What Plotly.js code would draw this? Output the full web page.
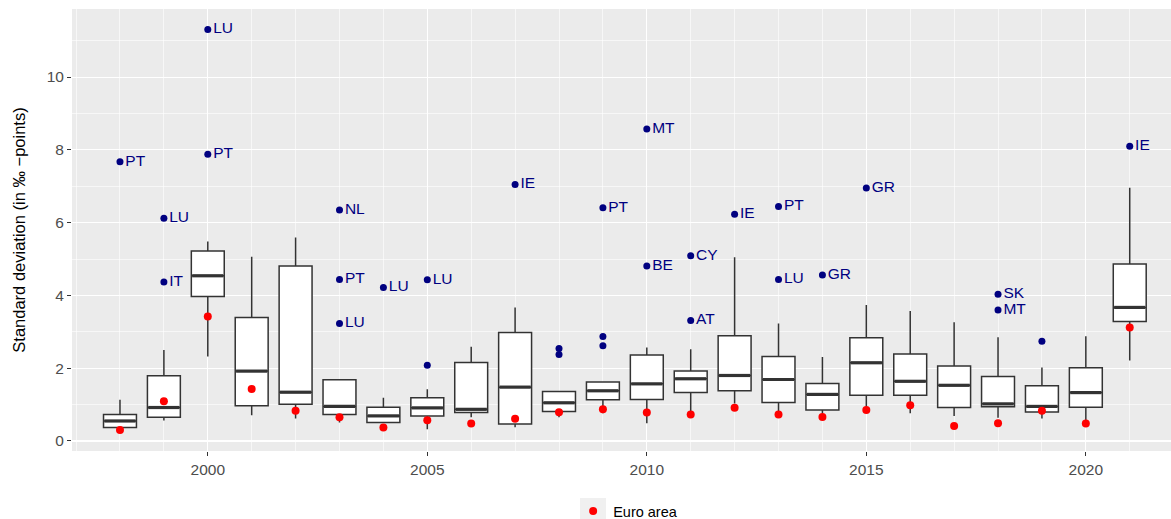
<!DOCTYPE html>
<html>
<head>
<meta charset="utf-8">
<script src="https://cdn.plot.ly/plotly-3.0.1.min.js"></script>
<style>html,body{margin:0;padding:0;background:#fff;}#chart{width:1171px;height:519px;}</style>
</head>
<body>
<div id="chart"></div>
<script>
// ---- data ----
const years = [1998,1999,2000,2001,2002,2003,2004,2005,2006,2007,2008,2009,2010,2011,2012,2013,2014,2015,2016,2017,2018,2019,2020,2021];
const lowerWhisker = [0.35,0.56,2.32,0.71,0.62,0.51,0.50,0.32,0.65,0.38,0.65,0.76,0.49,0.80,1.03,0.81,0.75,0.94,0.76,0.69,0.64,0.62,0.52,2.21];
const q1Values     = [0.37,0.65,3.97,0.97,1.01,0.73,0.51,0.69,0.78,0.47,0.81,1.13,1.14,1.33,1.38,1.06,0.85,1.26,1.26,0.92,0.94,0.80,0.93,3.28];
const medianValues = [0.55,0.92,4.54,1.92,1.34,0.95,0.69,0.91,0.87,1.48,1.05,1.38,1.57,1.71,1.80,1.69,1.28,2.15,1.64,1.53,1.02,0.95,1.33,3.67];
const q3Values     = [0.73,1.79,5.22,3.39,4.81,1.68,0.93,1.19,2.16,2.98,1.36,1.62,2.36,1.92,2.89,2.32,1.58,2.84,2.39,2.06,1.77,1.52,2.01,4.86];
const upperWhisker = [1.13,2.50,5.48,5.06,5.59,1.70,1.19,1.42,2.59,3.67,1.36,1.62,2.57,2.52,5.05,3.23,2.31,3.74,3.57,3.26,2.85,2.02,2.88,6.96];
const euroArea     = [0.30,1.09,3.42,1.43,0.83,0.65,0.37,0.57,0.48,0.61,0.79,0.87,0.78,0.73,0.91,0.73,0.66,0.85,0.98,0.41,0.49,0.83,0.48,3.12];

const outlierYears  = [1998,1999,1999,2000,2000,2003,2003,2003,2004,2005,2005,2007,2008,2008,2009,2009,2009,2010,2010,2011,2011,2012,2013,2013,2014,2015,2018,2018,2019,2021];
const outlierValues = [7.67,6.12,4.37,11.31,7.88,6.35,4.44,3.23,4.22,4.43,2.08,7.05,2.54,2.38,6.41,2.87,2.62,8.57,4.81,5.09,3.31,6.23,6.44,4.44,4.56,6.95,4.03,3.60,2.74,8.10];
const outlierLabels = ['PT','LU','IT','LU','PT','NL','PT','LU','LU','LU','','IE','','','PT','','','MT','BE','CY','AT','IE','PT','LU','GR','GR','SK','MT','','IE'];

const yTitle = 'Standard deviation (in \u2030 \u2212points)';
const legendName = 'Euro area';

// ---- traces ----
const BOXW = 0.75;
const lineCol = '#333333';

const boxTrace = {
  type: 'box',
  x: years,
  q1: q1Values, median: medianValues, q3: q3Values,
  lowerfence: lowerWhisker, upperfence: upperWhisker,
  boxpoints: false,
  width: BOXW,
  whiskerwidth: 0,
  fillcolor: '#FFFFFF',
  line: {color: lineCol, width: 1.5},
  showlegend: false,
  hoverinfo: 'skip'
};

const medX = [], medY = [];
years.forEach((yr, i) => {
  medX.push(yr - BOXW/2 + 0.02, yr + BOXW/2 - 0.02, null);
  medY.push(medianValues[i], medianValues[i], null);
});
const medianTrace = {
  type: 'scatter', mode: 'lines', x: medX, y: medY,
  line: {color: lineCol, width: 3.2},
  showlegend: false, hoverinfo: 'skip'
};

const outlierTrace = {
  type: 'scatter', mode: 'markers+text',
  x: outlierYears, y: outlierValues, text: outlierLabels,
  textposition: 'middle right',
  textfont: {family: 'Liberation Sans, Arial, sans-serif', size: 15.5, color: '#000080'},
  marker: {color: '#000080', size: 7},
  showlegend: false, hoverinfo: 'skip', cliponaxis: false
};

const euroTrace = {
  type: 'scatter', mode: 'markers',
  x: years, y: euroArea, name: legendName,
  marker: {color: '#FF0000', size: 8},
  showlegend: true, hoverinfo: 'skip'
};

const layout = {
  width: 1171, height: 519,
  margin: {l: 72, r: 0, t: 9, b: 68, autoexpand: false},
  paper_bgcolor: '#FFFFFF',
  plot_bgcolor: '#EBEBEB',
  font: {family: 'Liberation Sans, Arial, sans-serif', color: '#000000'},
  showlegend: true,
  legend: {
    orientation: 'h', x: 0.456, xanchor: 'left', y: -0.136, yanchor: 'middle',
    bgcolor: 'rgba(0,0,0,0)', font: {size: 14.5, color: '#000000'}
  },
  xaxis: {
    range: [1996.907, 2021.94],
    tick0: 2000, dtick: 5,
    showgrid: true, gridcolor: '#FFFFFF', gridwidth: 1.1,
    minor: {dtick: 1, tick0: 2000, showgrid: true, gridcolor: '#FFFFFF', gridwidth: 0.6, ticks: ''},
    zeroline: false, showline: false,
    ticks: 'outside', ticklen: 4, tickwidth: 1, tickcolor: lineCol,
    tickfont: {size: 15.5, color: '#4D4D4D'}
  },
  yaxis: {
    range: [-0.275, 11.87],
    tick0: 0, dtick: 2,
    showgrid: true, gridcolor: '#FFFFFF', gridwidth: 1.1,
    minor: {dtick: 1, tick0: 0, showgrid: true, gridcolor: '#FFFFFF', gridwidth: 0.6, ticks: ''},
    zeroline: false, showline: false,
    ticks: 'outside', ticklen: 4, tickwidth: 1, tickcolor: lineCol,
    tickfont: {size: 15.5, color: '#4D4D4D'},
    title: {text: yTitle, font: {size: 16.5, color: '#000000'}, standoff: 16}
  },
  shapes: [{
    type: 'rect', xref: 'paper', yref: 'paper', layer: 'below',
    x0: (580-72)/1099, x1: (606-72)/1099, y0: (451-498)/442, y1: (451-520)/442,
    fillcolor: '#F0F0F0', line: {width: 0}
  }]
};

Plotly.newPlot('chart', [boxTrace, medianTrace, euroTrace, outlierTrace], layout, {staticPlot: true, displayModeBar: false});
</script>
</body>
</html>
